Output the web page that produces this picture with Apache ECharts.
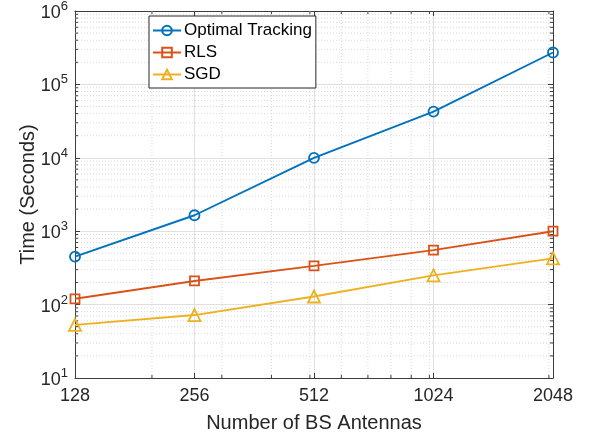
<!DOCTYPE html>
<html>
<head>
<meta charset="utf-8">
<script src="https://cdn.jsdelivr.net/npm/echarts@6/dist/echarts.min.js"></script>
<style>
  html, body { margin: 0; padding: 0; background: #fff; }
  #chart { width: 592px; height: 438px; }
</style>
</head>
<body>
<div id="chart"></div>
<script>
// Number of BS antennas (log2-spaced x axis)
const antennas = [128, 256, 512, 1024, 2048];

// Run time in seconds for each method
const optimalTracking = [450, 1650, 10000, 42600, 272000];
const rls = [120, 210, 337, 553, 1000];
const sgd = [53, 72, 129, 250, 427];

// Minor (log) gridline positions
const xMinor = [200, 300, 400, 500, 600, 700, 800, 900, 1000, 2000];
const yMinor = [];
[10, 100, 1000, 10000, 100000].forEach(function (d) {
  for (let k = 2; k <= 9; k++) yMinor.push(k * d);
});

const X_MIN = 128, X_MAX = 2048, Y_MIN = 10, Y_MAX = 1e6;
const FONT = 'Liberation Sans, Arial, Helvetica, sans-serif';
const TXT = '#262626';
const AX = '#3c3c3c';

function pairs(xs, ys) { return xs.map(function (x, i) { return [x, ys[i]]; }); }

// Dotted minor gridline with small inward ticks on both ends
function minorRender(horizontal) {
  return function (params, api) {
    const v = api.value(horizontal ? 1 : 0);
    let a, b;
    if (horizontal) { a = api.coord([X_MIN, v]); b = api.coord([X_MAX, v]); }
    else { a = api.coord([v, Y_MIN]); b = api.coord([v, Y_MAX]); }
    const t = 3;
    const children = [{
      type: 'line',
      shape: { x1: a[0], y1: a[1], x2: b[0], y2: b[1] },
      style: { stroke: '#d9d9d9', lineWidth: 1, lineDash: [1, 2] }
    }];
    if (horizontal) {
      children.push({ type: 'line', shape: { x1: a[0], y1: a[1], x2: a[0] + t, y2: a[1] }, style: { stroke: AX, lineWidth: 1 } });
      children.push({ type: 'line', shape: { x1: b[0], y1: b[1], x2: b[0] - t, y2: b[1] }, style: { stroke: AX, lineWidth: 1 } });
    } else {
      children.push({ type: 'line', shape: { x1: a[0], y1: a[1], x2: a[0], y2: a[1] - t }, style: { stroke: AX, lineWidth: 1 } });
      children.push({ type: 'line', shape: { x1: b[0], y1: b[1], x2: b[0], y2: b[1] + t }, style: { stroke: AX, lineWidth: 1 } });
    }
    return { type: 'group', children: children };
  };
}

function lineSeries(name, values, color, symbol, size) {
  return {
    name: name, type: 'line', z: 5,
    data: pairs(antennas, values),
    symbol: symbol, symbolSize: size,
    color: color,
    lineStyle: { width: 1.9, color: color },
    itemStyle: { color: 'rgba(255,255,255,0)', borderColor: color, borderWidth: 1.8 }
  };
}

const chart = echarts.init(document.getElementById('chart'), null, { renderer: 'canvas' });

const majorTick = { show: true, inside: true, length: 5, lineStyle: { color: AX, width: 1 } };

chart.setOption({
  animation: false,
  backgroundColor: '#ffffff',
  textStyle: { fontFamily: FONT, color: TXT },
  grid: { left: 75, right: 39, top: 7, bottom: 59, containLabel: false },
  legend: {
    orient: 'vertical',
    left: 149,
    top: 16,
    padding: [6, 4, 5, 3],
    itemWidth: 28,
    itemHeight: 12,
    itemGap: 5,
    backgroundColor: '#ffffff',
    borderColor: '#262626',
    borderWidth: 1,
    borderRadius: 0,
    textStyle: { fontFamily: FONT, fontSize: 17, color: '#000', padding: [0, 0, 0, -2] },
    data: ['Optimal Tracking', 'RLS', 'SGD']
  },
  xAxis: [{
    type: 'log',
    logBase: 2,
    min: X_MIN,
    max: X_MAX,
    splitNumber: 4,
    name: 'Number of BS Antennas',
    nameLocation: 'middle',
    nameGap: 35,
    nameMoveOverlap: false,
    nameTextStyle: { fontFamily: FONT, fontSize: 20, color: TXT },
    axisLine: { show: true, lineStyle: { color: AX, width: 1 } },
    axisTick: majorTick,
    axisLabel: {
      fontFamily: FONT, fontSize: 18, color: TXT, margin: 9,
      formatter: function (v) { return String(Math.round(v)); }
    },
    splitLine: { show: true, lineStyle: { color: '#e0e0e0', width: 1 } }
  }, {
    type: 'log',
    logBase: 2,
    min: X_MIN,
    max: X_MAX,
    splitNumber: 4,
    position: 'top',
    axisLine: { show: true, onZero: false, lineStyle: { color: AX, width: 1 } },
    axisTick: majorTick,
    axisLabel: { show: false },
    splitLine: { show: false }
  }],
  yAxis: [{
    type: 'log',
    logBase: 10,
    min: Y_MIN,
    max: Y_MAX,
    splitNumber: 5,
    name: 'Time (Seconds)',
    nameLocation: 'middle',
    nameGap: 37,
    nameMoveOverlap: false,
    nameTextStyle: { fontFamily: FONT, fontSize: 20, color: TXT },
    axisLine: { show: true, lineStyle: { color: AX, width: 1 } },
    axisTick: majorTick,
    axisLabel: {
      margin: 7,
      formatter: function (v) {
        const e = Math.round(Math.log10(v));
        return '{b|10}{s|' + e + '}';
      },
      rich: {
        b: { fontFamily: FONT, fontSize: 18, color: TXT, lineHeight: 22, verticalAlign: 'bottom' },
        s: { fontFamily: FONT, fontSize: 13, color: TXT, lineHeight: 22, verticalAlign: 'top' }
      }
    },
    splitLine: { show: true, lineStyle: { color: '#e0e0e0', width: 1 } }
  }, {
    type: 'log',
    logBase: 10,
    min: Y_MIN,
    max: Y_MAX,
    splitNumber: 5,
    position: 'right',
    axisLine: { show: true, onZero: false, lineStyle: { color: AX, width: 1 } },
    axisTick: majorTick,
    axisLabel: { show: false },
    splitLine: { show: false }
  }],
  series: [
    {
      type: 'custom', name: 'yMinor', silent: true, z: 1,
      renderItem: minorRender(true),
      data: yMinor.map(function (v) { return [X_MIN, v]; }),
      clip: false
    },
    {
      type: 'custom', name: 'xMinor', silent: true, z: 1,
      renderItem: minorRender(false),
      data: xMinor.map(function (v) { return [v, Y_MIN]; }),
      clip: false
    },
    lineSeries('Optimal Tracking', optimalTracking, '#0072BD', 'circle', 10),
    lineSeries('RLS', rls, '#D95319', 'rect', 9),
    lineSeries('SGD', sgd, '#EDB120', 'triangle', 12)
  ]
});
</script>
</body>
</html>
